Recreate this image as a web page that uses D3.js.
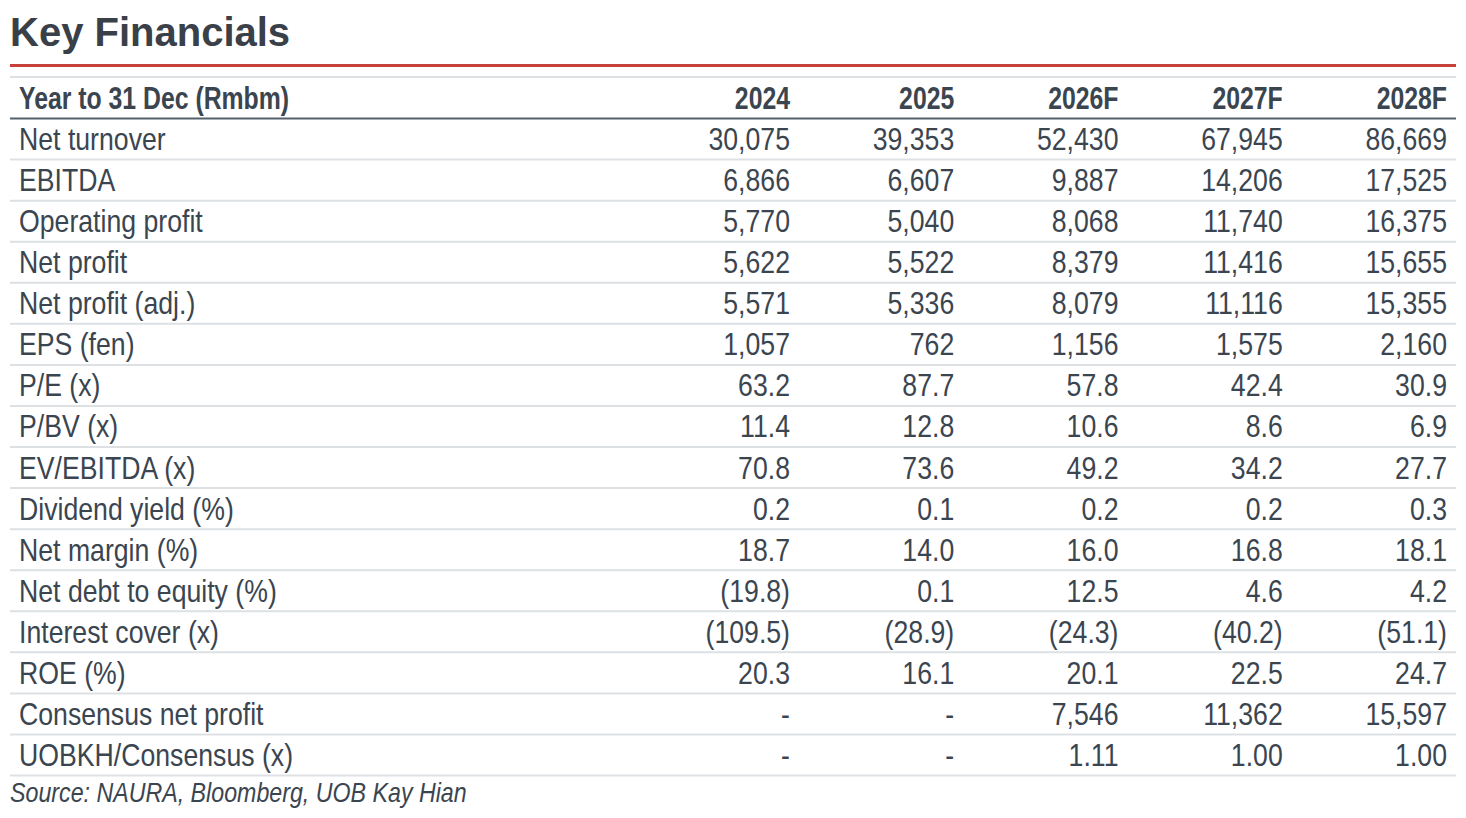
<!DOCTYPE html>
<html><head><meta charset="utf-8">
<script src="https://cdn.jsdelivr.net/npm/d3@7"></script>
<style>body{margin:0;background:#fff}</style></head>
<body><svg id="c" width="1466" height="818"></svg>
<script>
const title = "Key Financials";
const headerLabel = "Year to 31 Dec (Rmbm)";
const years = ["2024","2025","2026F","2027F","2028F"];
const rowLabels = ["Net turnover","EBITDA","Operating profit","Net profit","Net profit (adj.)","EPS (fen)","P/E (x)","P/BV (x)","EV/EBITDA (x)","Dividend yield (%)","Net margin (%)","Net debt to equity (%)","Interest cover (x)","ROE (%)","Consensus net profit","UOBKH/Consensus (x)"];
const v2024 = ["30,075","6,866","5,770","5,622","5,571","1,057","63.2","11.4","70.8","0.2","18.7","(19.8)","(109.5)","20.3","-","-"];
const v2025 = ["39,353","6,607","5,040","5,522","5,336","762","87.7","12.8","73.6","0.1","14.0","0.1","(28.9)","16.1","-","-"];
const v2026 = ["52,430","9,887","8,068","8,379","8,079","1,156","57.8","10.6","49.2","0.2","16.0","12.5","(24.3)","20.1","7,546","1.11"];
const v2027 = ["67,945","14,206","11,740","11,416","11,116","1,575","42.4","8.6","34.2","0.2","16.8","4.6","(40.2)","22.5","11,362","1.00"];
const v2028 = ["86,669","17,525","16,375","15,655","15,355","2,160","30.9","6.9","27.7","0.3","18.1","4.2","(51.1)","24.7","15,597","1.00"];
const source = "Source: NAURA, Bloomberg, UOB Kay Hian";
const cols = [v2024,v2025,v2026,v2027,v2028];

const svg = d3.select("#c");
const font = "'Liberation Sans',Arial,sans-serif";
const ink = "#3b4550";
const SX = 0.86;
function txt(sel, x, yy, s, anchor, opts){
  const t = sel.append("text").attr("transform",`translate(${x},${yy}) scale(${SX},1)`)
    .attr("font-family",font).attr("font-size",opts.size||31).attr("fill",ink)
    .attr("text-anchor",anchor||"start").text(s);
  if(opts.bold) t.attr("font-weight","bold");
  if(opts.italic) t.attr("font-style","italic");
  return t;
}
svg.append("text").attr("x",10).attr("y",46).attr("font-family",font)
  .attr("font-weight","bold").attr("font-size",40).attr("fill","#3a4048").text(title);
svg.append("rect").attr("x",10).attr("y",64).attr("width",1446).attr("height",3).attr("fill","#c8403a");
svg.append("line").attr("x1",10).attr("x2",1456).attr("y1",77).attr("y2",77).attr("stroke","#dde1e4").attr("stroke-width",2);

const xCol = d3.scalePoint().domain(years).range([790,1447]);
const y = d3.scaleBand().domain(d3.range(rowLabels.length)).range([118.5,775.5]);

txt(svg,19,109,headerLabel,"start",{bold:true,size:31}).attr("transform",`translate(19,109) scale(0.8,1)`);
years.forEach(yr=>txt(svg,xCol(yr),109,yr,"end",{bold:true,size:31}).attr("transform",`translate(${xCol(yr)},109) scale(0.8,1)`));
svg.append("line").attr("x1",10).attr("x2",1456).attr("y1",118.5).attr("y2",118.5).attr("stroke","#55606a").attr("stroke-width",2);

rowLabels.forEach((lab,i)=>{
  const yy = y(i)+y.bandwidth()/2+11;
  svg.append("line").attr("x1",10).attr("x2",1456).attr("y1",y(i)+y.bandwidth()).attr("y2",y(i)+y.bandwidth())
    .attr("stroke","#dde1e4").attr("stroke-width",2);
  txt(svg,19,yy,lab,"start",{size:31});
  years.forEach((yr,ci)=>txt(svg,xCol(yr),yy,cols[ci][i],"end",{size:31}));
});
txt(svg,10,802,source,"start",{italic:true,size:27});
</script></body></html>
